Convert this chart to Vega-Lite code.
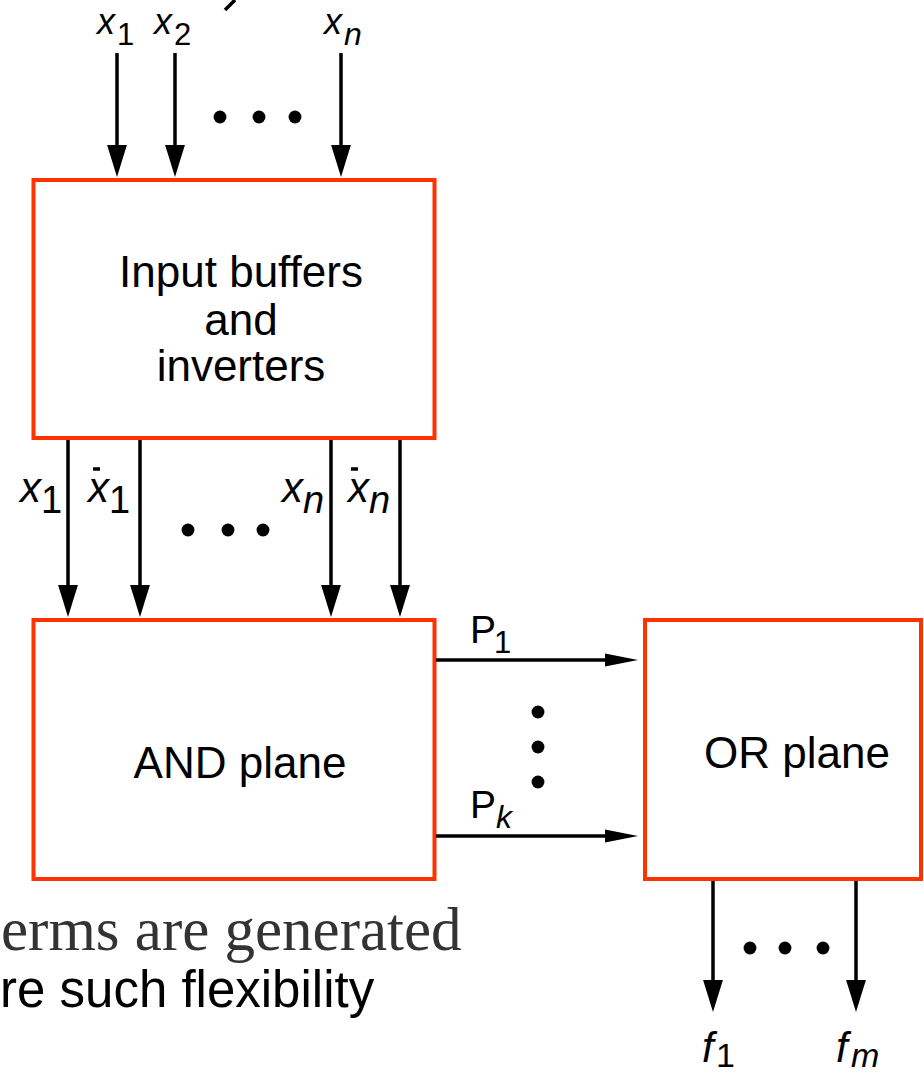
{
  "$schema": "https://vega.github.io/schema/vega-lite/v6.json",
  "width": 924,
  "height": 1076,
  "autosize": "none",
  "padding": 0,
  "background": "white",
  "config": {"view": {"stroke": null}},
  "datasets": {
    "boxes": [
      {"x": 33.5, "x2": 434.5, "y": 180, "y2": 438},
      {"x": 33.5, "x2": 434.5, "y": 620, "y2": 879},
      {"x": 645, "x2": 921, "y": 620, "y2": 879}
    ],
    "lines": [
      {"x": 117, "y": 53, "x2": 117, "y2": 150},
      {"x": 175, "y": 53, "x2": 175, "y2": 150},
      {"x": 341, "y": 53, "x2": 341, "y2": 150},
      {"x": 68, "y": 440, "x2": 68, "y2": 590},
      {"x": 140, "y": 440, "x2": 140, "y2": 590},
      {"x": 331, "y": 440, "x2": 331, "y2": 590},
      {"x": 400, "y": 440, "x2": 400, "y2": 590},
      {"x": 436, "y": 660, "x2": 610, "y2": 660},
      {"x": 436, "y": 836, "x2": 610, "y2": 836},
      {"x": 713, "y": 881, "x2": 713, "y2": 985},
      {"x": 856, "y": 881, "x2": 856, "y2": 985},
      {"x": 93, "y": 469, "x2": 100, "y2": 469},
      {"x": 351, "y": 469, "x2": 358, "y2": 469},
      {"x": 235, "y": 0, "x2": 225, "y2": 10}
    ],
    "headsDown": [
      {"x": 117, "y": 161},
      {"x": 175, "y": 161},
      {"x": 341, "y": 161},
      {"x": 68, "y": 601},
      {"x": 140, "y": 601},
      {"x": 331, "y": 601},
      {"x": 400, "y": 601},
      {"x": 713, "y": 996},
      {"x": 856, "y": 996}
    ],
    "headsRight": [
      {"x": 621.5, "y": 660},
      {"x": 621.5, "y": 836}
    ],
    "dots": [
      {"x": 220, "y": 117}, {"x": 259, "y": 117}, {"x": 295, "y": 117},
      {"x": 188, "y": 530}, {"x": 228, "y": 530}, {"x": 263, "y": 530},
      {"x": 538, "y": 712}, {"x": 538, "y": 747}, {"x": 538, "y": 782},
      {"x": 750, "y": 948}, {"x": 785, "y": 948}, {"x": 823, "y": 948}
    ],
    "texts": [
      {"g": "box", "t": "Input buffers", "x": 241, "y": 287},
      {"g": "box", "t": "and", "x": 241, "y": 335},
      {"g": "box", "t": "inverters", "x": 241, "y": 381},
      {"g": "box", "t": "AND plane", "x": 240, "y": 778},
      {"g": "box", "t": "OR plane", "x": 797, "y": 768},
      {"g": "varTop", "t": "x", "x": 97, "y": 34},
      {"g": "varTop", "t": "x", "x": 154, "y": 34},
      {"g": "varTop", "t": "x", "x": 324, "y": 34},
      {"g": "subTop", "t": "1", "x": 117, "y": 45},
      {"g": "subTop", "t": "2", "x": 174, "y": 45},
      {"g": "subTopI", "t": "n", "x": 344, "y": 45},
      {"g": "varMid", "t": "x", "x": 20, "y": 502},
      {"g": "varMid", "t": "x", "x": 88, "y": 502},
      {"g": "varMid", "t": "x", "x": 282, "y": 502},
      {"g": "varMid", "t": "x", "x": 348, "y": 502},
      {"g": "subMid", "t": "1", "x": 41, "y": 513},
      {"g": "subMid", "t": "1", "x": 109, "y": 513},
      {"g": "subMidI", "t": "n", "x": 303, "y": 513},
      {"g": "subMidI", "t": "n", "x": 369, "y": 513},
      {"g": "P", "t": "P", "x": 470, "y": 643},
      {"g": "P", "t": "P", "x": 470, "y": 818},
      {"g": "subP", "t": "1", "x": 494, "y": 653},
      {"g": "subPI", "t": "k", "x": 496, "y": 828},
      {"g": "f", "t": "f", "x": 702, "y": 1062},
      {"g": "f", "t": "f", "x": 836, "y": 1062},
      {"g": "subF", "t": "1", "x": 716, "y": 1067},
      {"g": "subFI", "t": "m", "x": 851, "y": 1067}
    ],
    "notes": [
      {"g": "serif", "t": "erms are generated", "x": 1, "y": 950},
      {"g": "sans", "t": "re such flexibility", "x": 0, "y": 1007}
    ]
  },
  "encoding": {
    "x": {"field": "x", "type": "quantitative", "axis": null, "scale": {"domain": [0, 924], "nice": false, "zero": false}},
    "y": {"field": "y", "type": "quantitative", "axis": null, "scale": {"domain": [0, 1076], "reverse": true, "nice": false, "zero": false}}
  },
  "layer": [
    {
      "data": {"name": "boxes"},
      "mark": {"type": "rect", "fill": "white", "stroke": "#FF3300", "strokeWidth": 4},
      "encoding": {"x2": {"field": "x2"}, "y2": {"field": "y2"}}
    },
    {
      "data": {"name": "lines"},
      "mark": {"type": "rule", "color": "black", "strokeWidth": 3.5, "strokeCap": "butt"},
      "encoding": {"x2": {"field": "x2"}, "y2": {"field": "y2"}}
    },
    {
      "data": {"name": "headsDown"},
      "mark": {"type": "point", "shape": "M-0.62,-1L0.62,-1L0,1Z", "filled": true, "color": "black", "opacity": 1, "size": 1024, "strokeWidth": 0}
    },
    {
      "data": {"name": "headsRight"},
      "mark": {"type": "point", "shape": "M-1,-0.4L1,0L-1,0.4Z", "filled": true, "color": "black", "opacity": 1, "size": 1089, "strokeWidth": 0}
    },
    {
      "data": {"name": "dots"},
      "mark": {"type": "point", "shape": "circle", "filled": true, "color": "black", "opacity": 1, "size": 165, "strokeWidth": 0}
    },
    {
      "data": {"name": "texts"},
      "transform": [{"filter": "datum.g === 'box'"}],
      "mark": {"type": "text", "font": "Liberation Sans", "fontSize": 44, "align": "center", "baseline": "alphabetic", "color": "black"},
      "encoding": {"text": {"field": "t"}}
    },
    {
      "data": {"name": "texts"},
      "transform": [{"filter": "datum.g === 'varTop'"}],
      "mark": {"type": "text", "font": "Liberation Sans", "fontStyle": "italic", "fontSize": 36, "align": "left", "baseline": "alphabetic", "color": "black"},
      "encoding": {"text": {"field": "t"}}
    },
    {
      "data": {"name": "texts"},
      "transform": [{"filter": "datum.g === 'subTop' || datum.g === 'subP'"}],
      "mark": {"type": "text", "font": "Liberation Sans", "fontSize": 31, "align": "left", "baseline": "alphabetic", "color": "black"},
      "encoding": {"text": {"field": "t"}}
    },
    {
      "data": {"name": "texts"},
      "transform": [{"filter": "datum.g === 'subTopI' || datum.g === 'subPI'"}],
      "mark": {"type": "text", "font": "Liberation Sans", "fontStyle": "italic", "fontSize": 32, "align": "left", "baseline": "alphabetic", "color": "black"},
      "encoding": {"text": {"field": "t"}}
    },
    {
      "data": {"name": "texts"},
      "transform": [{"filter": "datum.g === 'varMid' || datum.g === 'f'"}],
      "mark": {"type": "text", "font": "Liberation Sans", "fontStyle": "italic", "fontSize": 42, "align": "left", "baseline": "alphabetic", "color": "black"},
      "encoding": {"text": {"field": "t"}}
    },
    {
      "data": {"name": "texts"},
      "transform": [{"filter": "datum.g === 'subMid'"}],
      "mark": {"type": "text", "font": "Liberation Sans", "fontSize": 38, "align": "left", "baseline": "alphabetic", "color": "black"},
      "encoding": {"text": {"field": "t"}}
    },
    {
      "data": {"name": "texts"},
      "transform": [{"filter": "datum.g === 'subMidI'"}],
      "mark": {"type": "text", "font": "Liberation Sans", "fontStyle": "italic", "fontSize": 38, "align": "left", "baseline": "alphabetic", "color": "black"},
      "encoding": {"text": {"field": "t"}}
    },
    {
      "data": {"name": "texts"},
      "transform": [{"filter": "datum.g === 'subF'"}],
      "mark": {"type": "text", "font": "Liberation Sans", "fontSize": 34, "align": "left", "baseline": "alphabetic", "color": "black"},
      "encoding": {"text": {"field": "t"}}
    },
    {
      "data": {"name": "texts"},
      "transform": [{"filter": "datum.g === 'subFI'"}],
      "mark": {"type": "text", "font": "Liberation Sans", "fontStyle": "italic", "fontSize": 34, "align": "left", "baseline": "alphabetic", "color": "black"},
      "encoding": {"text": {"field": "t"}}
    },
    {
      "data": {"name": "texts"},
      "transform": [{"filter": "datum.g === 'P'"}],
      "mark": {"type": "text", "font": "Liberation Sans", "fontSize": 39, "align": "left", "baseline": "alphabetic", "color": "black"},
      "encoding": {"text": {"field": "t"}}
    },
    {
      "data": {"name": "notes"},
      "transform": [{"filter": "datum.g === 'serif'"}],
      "mark": {"type": "text", "font": "Liberation Serif", "fontSize": 61, "align": "left", "baseline": "alphabetic", "color": "#333333"},
      "encoding": {"text": {"field": "t"}}
    },
    {
      "data": {"name": "notes"},
      "transform": [{"filter": "datum.g === 'sans'"}],
      "mark": {"type": "text", "font": "Liberation Sans", "fontSize": 51, "align": "left", "baseline": "alphabetic", "color": "black"},
      "encoding": {"text": {"field": "t"}}
    }
  ]
}
